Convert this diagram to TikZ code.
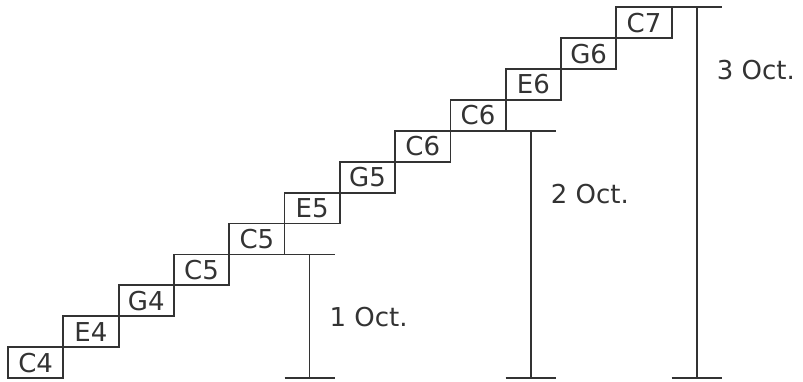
\documentclass[tikz,border=0pt]{standalone}
\usepackage{fontspec}
\setmainfont{DejaVu Sans}
\usetikzlibrary{positioning, calc}
\tikzset{
    note/.style={draw, rectangle, line width=1.8pt, minimum width=55.3pt, minimum height=30.9pt, inner sep=0pt, outer sep=0pt, align=center, color=black!80, font=\fontsize{26}{28}\selectfont},
    span/.style={draw, line width=1.8pt, color=black!80},
    octave/.style={anchor=west, inner sep=0pt, color=black!80, font=\fontsize{26}{28}\selectfont}
}

\begin{document}
\begin{tikzpicture}[node distance=0pt and 0pt]
    \useasboundingbox (0,0) rectangle (803pt,381pt);

    % the staircase
    \node [note, anchor=south west] (c4) at (8pt,3pt) {C4};
    \node [note, above right=of c4] (e4) {E4};
    \node [note, above right=of e4] (g4) {G4};
    \node [note, above right=of g4] (c5a) {C5};
    \node [note, above right=of c5a] (c5b) {C5};
    \node [note, above right=of c5b] (e5) {E5};
    \node [note, above right=of e5] (g5) {G5};
    \node [note, above right=of g5] (c6a) {C6};
    \node [note, above right=of c6a] (c6b) {C6};
    \node [note, above right=of c6b] (e6) {E6};
    \node [note, above right=of e6] (g6) {G6};
    \node [note, above right=of g6] (c7) {C7};

    % octave spans
    \coordinate (top1) at ([xshift=25pt]c5b.south east);
    \coordinate (bot1) at (top1 |- c4.south);
    \draw [span] (top1) -- (bot1);
    \draw [span] ([xshift=-25pt]top1) -- ([xshift=25pt]top1);
    \draw [span] ([xshift=-25pt]bot1) -- ([xshift=25pt]bot1);
    \node [octave] (oct1) at ([xshift=20pt, yshift=-63pt]top1) {1 Oct.};

    \coordinate (top2) at ([xshift=25pt]c6b.south east);
    \coordinate (bot2) at (top2 |- c4.south);
    \draw [span] (top2) -- (bot2);
    \draw [span] ([xshift=-25pt]top2) -- ([xshift=25pt]top2);
    \draw [span] ([xshift=-25pt]bot2) -- ([xshift=25pt]bot2);
    \node [octave] (oct2) at ([xshift=20pt, yshift=-63pt]top2) {2 Oct.};

    \coordinate (top3) at ([xshift=25pt]c7.north east);
    \coordinate (bot3) at (top3 |- c4.south);
    \draw [span] (top3) -- (bot3);
    \draw [span] ([xshift=-25pt]top3) -- ([xshift=25pt]top3);
    \draw [span] ([xshift=-25pt]bot3) -- ([xshift=25pt]bot3);
    \node [octave] (oct3) at ([xshift=20pt, yshift=-63pt]top3) {3 Oct.};
\end{tikzpicture}
\end{document}
